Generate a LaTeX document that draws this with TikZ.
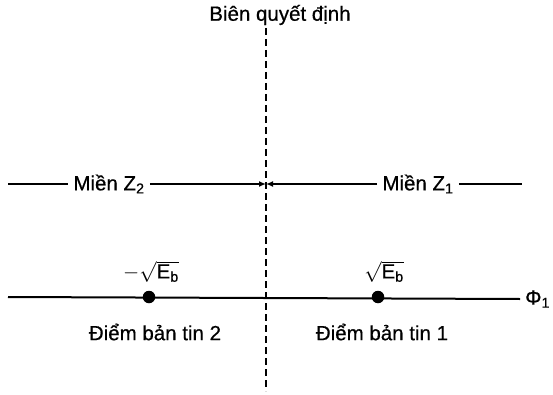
\documentclass[tikz,border=0pt]{standalone}
\usepackage{fontspec}
\setmainfont{Liberation Sans}[FakeBold=0.6]
\usetikzlibrary{arrows.meta}
\tikzset{
  nhan/.style={inner sep=1pt, font=\fontsize{20.5}{24}\selectfont},
  mien/.style={nhan, inner xsep=5pt},
  duong/.style={line width=2pt},
  diem/.style={circle, fill=black, inner sep=0pt, minimum size=12.5pt}
}
\begin{document}
\begin{tikzpicture}[x=1pt, y=1pt]
  \useasboundingbox (0,0) rectangle (553,394);

  % Bien quyet dinh (duong net dut)
  \node[nhan] (tieude) at (280,379) {Biên quyết định};
  \coordinate (btren) at (266,366);
  \coordinate (bduoi) at (266,3);
  \draw[duong, dash pattern=on 7pt off 4pt] (btren) -- (bduoi);

  % Cac mien Z1, Z2
  \coordinate (zt) at (8,210);
  \coordinate (zp) at (522,210);
  \coordinate (zb) at (266,210);
  \node[mien] (z2) at (109,210) {Miền Z\textsubscript{2}};
  \node[mien] (z1) at (418,210) {Miền Z\textsubscript{1}};
  \draw[duong] (zt) -- (z2.west);
  \draw[duong, -{Latex[length=7pt,width=6pt]}] (z2.east) -- (zb);
  \draw[duong, -{Latex[length=7pt,width=6pt]}] (z1.west) -- (zb);
  \draw[duong] (z1.east) -- (zp);

  % Truc Phi_1 va cac diem ban tin
  \coordinate (at) at (8,97);
  \node[mien, anchor=west] (phi) at (520,95) {Φ\textsubscript{1}};
  \draw[duong] (at) -- (phi.west);
  \node[diem] (m2) at (149,97) {};
  \node[diem] (m1) at (378,97) {};
  \node[nhan] (e2) at (151,122) {$-\sqrt{\mathrm{E}_\mathrm{b}}$};
  \node[nhan] (e1) at (384,122) {$\sqrt{\mathrm{E}_\mathrm{b}}$};
  \node[nhan] (d2) at (155,62) {Điểm bản tin 2};
  \node[nhan] (d1) at (382,62) {Điểm bản tin 1};
\end{tikzpicture}
\end{document}
